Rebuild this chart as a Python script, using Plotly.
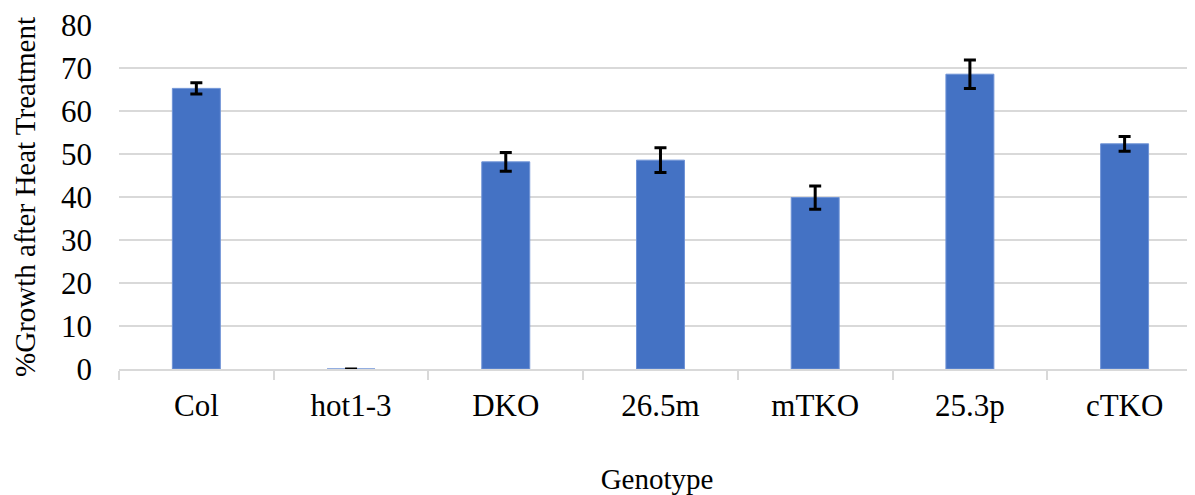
import plotly.graph_objects as go

genotypes = ["Col", "hot1-3", "DKO", "26.5m", "mTKO", "25.3p", "cTKO"]
growth = [65.3, 0.0, 48.2, 48.6, 39.9, 68.6, 52.4]
errors = [1.3, 0.0, 2.2, 2.9, 2.7, 3.3, 1.7]
y_ticks = [0, 10, 20, 30, 40, 50, 60, 70, 80]

FONT = "Liberation Serif"

fig = go.Figure(
    go.Bar(
        x=genotypes,
        y=growth,
        width=0.31,
        marker=dict(color="#4472C4", line=dict(color="#6f93d6", width=1)),
        error_y=dict(type="data", array=errors, visible=True,
                     color="black", thickness=3, width=6),
    )
)

# page body has an 8px margin, so the figure is offset by 8px right/down
fig.update_layout(
    width=1187, height=487,
    margin=dict(l=111, r=0, t=16, b=124),
    paper_bgcolor="white", plot_bgcolor="white",
    font=dict(family=FONT, size=31, color="black"),
    showlegend=False,
)
fig.update_xaxes(
    range=[-0.5, 6.455],
    showgrid=False,
    showline=True, linecolor="#d9d9d9", linewidth=1.5,
    ticks="outside", tickson="boundaries", ticklen=9, tickcolor="#d9d9d9", tickwidth=1.5,
    tickfont=dict(family=FONT, size=31), ticklabelstandoff=8,
    title=dict(text="Genotype", font=dict(family=FONT, size=29), standoff=52),
)
fig.update_yaxes(
    range=[0, 80.05], tickvals=y_ticks, ticklabeloverflow="allow",
    showgrid=True, gridcolor="#d9d9d9", gridwidth=1.5,
    zeroline=False, showline=False,
    ticks="", tickfont=dict(family=FONT, size=31), ticklabelstandoff=26,
    title=dict(text="%Growth after Heat Treatment", font=dict(family=FONT, size=29), standoff=16),
)

fig.write_html("out.html")
